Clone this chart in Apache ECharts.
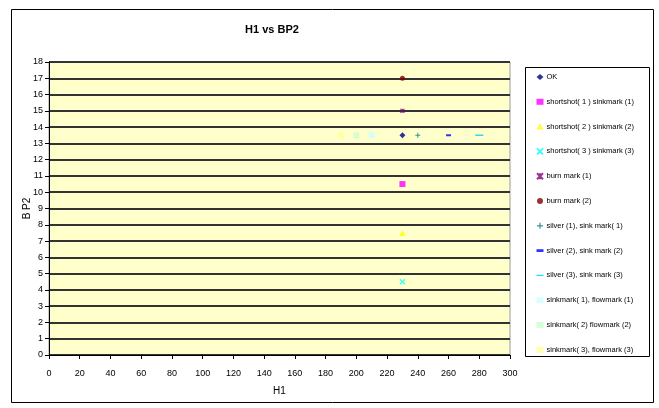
<!DOCTYPE html>
<html><head><meta charset="utf-8">
<script src="https://cdn.jsdelivr.net/npm/echarts@6/dist/echarts.min.js"></script>
<style>html,body{margin:0;padding:0;background:#fff}#c{width:659px;height:408px}</style>
</head><body><div id="c"></div>
<script>
const seriesNames = ['OK','shortshot( 1 ) sinkmark (1)','shortshot( 2 ) sinkmark (2)','shortshot( 3 ) sinkmark (3)','burn mark (1)','burn mark (2)','silver (1), sink mark( 1)','silver (2), sink mark (2)','silver (3), sink mark (3)','sinkmark( 1), flowmark (1)','sinkmark( 2) flowmark (2)','sinkmark( 3), flowmark (3)'];
const seriesX = [230,230,230,230,230,230,240,260,280,210,200,190];
const seriesY = [13.5,10.5,7.5,4.5,15,17,13.5,13.5,13.5,13.5,13.5,13.5];
const colors = ['#000080','#FF00FF','#FFFF00','#00FFFF','#800080','#800000','#008080','#0000FF','#00CCFF','#CCFFFF','#CCFFCC','#FFFF99'];
const symbols = ['diamond','rect','triangle',
 'path://M0,0L1,1M1,0L0,1',
 'path://M0,0L1,1M1,0L0,1M0.5,0L0.5,1',
 'circle',
 'path://M0.4,0H0.6V0.4H1V0.6H0.6V1H0.4V0.6H0V0.4H0.4Z',
 'path://M0,0H1V1H0Z','path://M0,0H1V1H0Z','rect','rect','rect'];
const legendIcons = ['diamond','rect','triangle',
 'path://M0,0L1,1M1,0L0,1',
 'path://M0,0L1,1M1,0L0,1M0.5,0L0.5,1',
 'circle',
 'path://M0.4,0H0.6V0.4H1V0.6H0.6V1H0.4V0.6H0V0.4H0.4Z',
 'path://M0,0H2.5V1H0Z','path://M0,0H5V1H0Z','rect','rect','rect'];
const sizes = [[6,6],[6,6],[6,6],[5,5],[4,4],[5,5],[5,5],[5,2],[8,1.5],[6,6],[6,6],[6,6]];
const xTicks = {min:0,max:300,interval:20};
const yTicks = {min:0,max:18,interval:1};

const FONT = '"Liberation Sans",sans-serif';
const chart = echarts.init(document.getElementById('c'));
const series = seriesNames.map((n,i)=>({
  name:n,type:'scatter',data:[[seriesX[i],seriesY[i]]],
  symbol:symbols[i],symbolSize:sizes[i],
  itemStyle:(i===3||i===4)?{color:colors[i],borderColor:colors[i],borderWidth:1.2}:{color:colors[i]},
  z:5
}));
chart.setOption({
  animation:false,
  title:{text:'H1 vs BP2',left:267,top:19,textAlign:'center',textStyle:{fontFamily:FONT,fontSize:11,fontWeight:'bold',color:'#000'}},
  grid:{left:49,right:149,top:62,bottom:53,show:true,backgroundColor:'#FFFFCC',borderColor:'#999',borderWidth:1},
  xAxis:{type:'value',min:xTicks.min,max:xTicks.max,interval:xTicks.interval,
    name:'H1',nameLocation:'middle',nameGap:31,nameMoveOverlap:false,nameTextStyle:{fontFamily:FONT,fontSize:10,color:'#000'},
    axisLine:{onZero:false,lineStyle:{color:'#000',width:1}},axisTick:{show:true,inside:false,length:4,lineStyle:{color:'#000'}},
    axisLabel:{fontFamily:FONT,fontSize:9,color:'#000',margin:14},splitLine:{show:false}},
  yAxis:{type:'value',min:yTicks.min,max:yTicks.max,interval:yTicks.interval,
    name:'B P2',nameLocation:'middle',nameGap:17,nameMoveOverlap:false,nameTextStyle:{fontFamily:FONT,fontSize:10,color:'#000'},
    axisLine:{onZero:false,lineStyle:{color:'#000',width:1}},axisTick:{show:true,inside:false,length:4,lineStyle:{color:'#000'}},
    axisLabel:{fontFamily:FONT,fontSize:9,color:'#000',margin:6},
    splitLine:{show:true,lineStyle:{color:'#333',width:2}}},
  legend:{orient:'vertical',left:531,top:68,itemGap:16.8,itemWidth:7,itemHeight:6,
    data:seriesNames.map((n,i)=>({name:n,icon:legendIcons[i]})),
    textStyle:{fontFamily:FONT,fontSize:7.5,color:'#000',padding:[0,0,0,-2]}},
  graphic:[
    {type:'rect',shape:{x:11.5,y:9.5,width:642,height:393},style:{fill:null,stroke:'#000',lineWidth:1},z:-1,silent:true},
    {type:'rect',shape:{x:525.5,y:67.5,width:124,height:289},style:{fill:null,stroke:'#000',lineWidth:1},z:-1,silent:true}
  ],
  series:series
});
</script></body></html>
